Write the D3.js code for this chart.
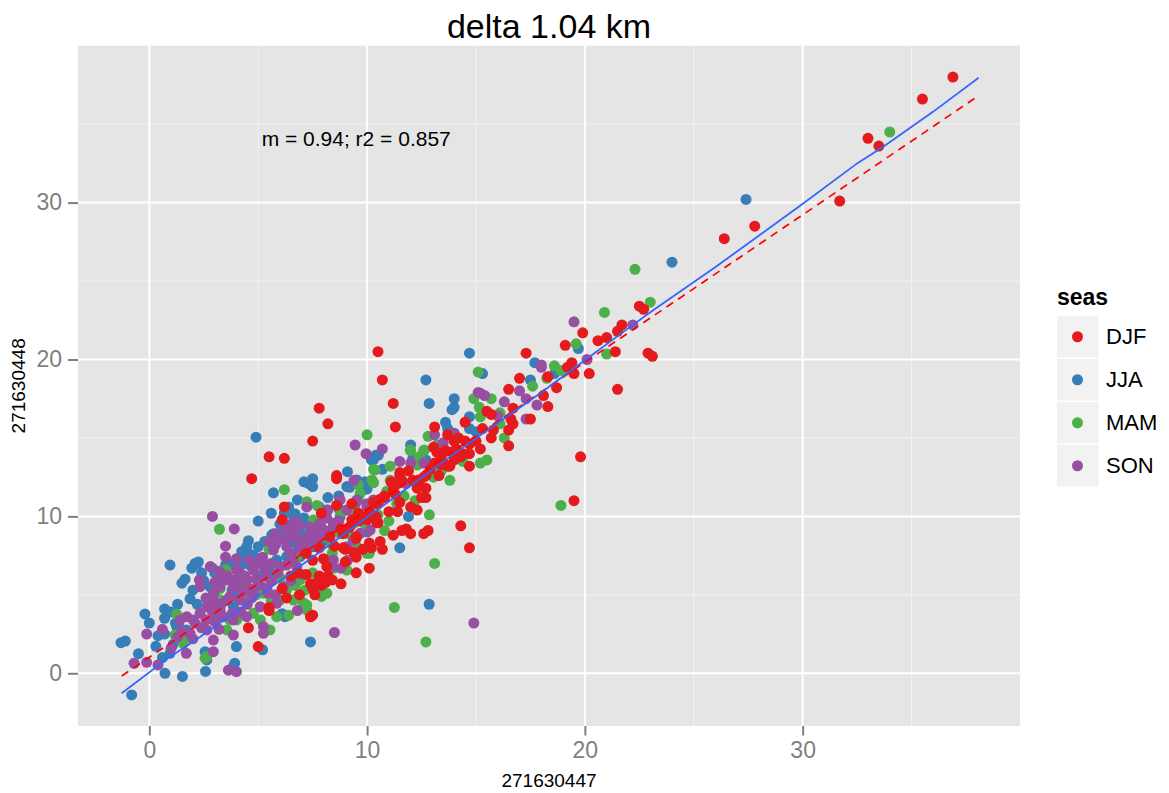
<!DOCTYPE html>
<html><head><meta charset="utf-8">
<script src="https://cdn.jsdelivr.net/npm/d3@7"></script>
<style>body{margin:0;background:#fff}svg{display:block}</style>
</head><body><div id="chart"></div>
<script>
const seasons = ["DJF","JJA","MAM","SON"];
const seasonColors = ["#E41A1C","#377EB8","#4DAF4A","#984EA3"];
const xTicks = [0,10,20,30];
const yTicks = [0,10,20,30];
const titleText = "delta 1.04 km";
const xLabel = "271630447";
const yLabel = "271630448";
const annotation = "m = 0.94; r2 = 0.857";
const annotPos = [9.5, 34.1];
const fitSlope = 0.94, fitIntercept = 1.02;
const fitRange = [-1.27, 38.1];
const smoothX = [-1.27, 0.95, 2, 4, 6, 8, 10, 12, 14, 16, 18, 20, 22, 23.15, 26, 28, 30.04, 32.5, 33.7, 36, 38.08];
const smoothY = [-1.27, 1.06, 2.0, 3.95, 5.9, 7.9, 9.95, 11.95, 14.0, 15.95, 17.9, 19.95, 22.0, 23.15, 25.9, 27.9, 29.96, 32.5, 33.56, 35.8, 37.96];

const djf = [[36.9,38.0],[35.5,36.6],[33.0,34.1],[33.5,33.6],[31.7,30.1],[27.8,28.5],[26.4,27.7],
[22.5,23.4],[22.7,23.2],[21.7,22.2],[21.5,21.8],[19.9,21.7],[19.1,20.9],[20.6,21.2],[21.0,21.4],[21.4,20.5],[22.9,20.4],[23.1,20.2],[20.2,19.1],[21.5,18.1],[19.8,13.8],[19.5,11.0],
[17.3,20.4],[19.4,19.8],[19.2,19.5],[19.5,19.1],[18.3,18.9],[17.0,18.8],[16.5,18.1],[18.1,17.7],[18.7,18.2],[18.3,17.0],[16.7,16.9],[17.5,16.2],[16.7,15.9],[16.5,15.5],[16.5,14.5],
[10.5,20.5],[10.7,18.7],[11.2,17.2],[11.3,15.7],[7.8,16.9],[8.2,15.9],[7.5,14.8],[5.5,13.8],[6.2,13.7],[4.7,12.4],
[15.5,16.7],[15.7,16.5],[16.6,16.2],[15.7,15.0],[15.3,15.6],[14.5,16.0],[13.1,15.7],[13.7,15.2],[14.2,15.0],[14.0,14.8],[13.2,14.1],[13.4,13.8],[13.6,14.2],[13.9,14.1],[14.5,14.8],[14.7,14.6],[15.0,14.8],[14.7,14.0],[14.4,14.0],[14.3,13.8],[14.1,14.3],[13.1,13.4],[13.4,13.3],[13.6,13.3],[13.8,13.2],[14.7,13.2],[13.7,13.2],[12.7,12.6],[12.4,12.3],[11.5,12.8],[11.1,12.2],[10.8,11.3],[10.5,10.8],[13.05,14.4],
[8.6,12.6],[8.6,12.4],[11.5,12.6],[11.6,12.3],[11.2,11.7],[12.6,12.5],[12.7,11.8],[12.3,11.8],[12.7,11.2],[12.5,11.2],[11.3,11.4],[10.8,11.2],[10.6,11.1],[12.0,10.6],[11.4,10.3],[11.0,10.3],[10.5,9.6],[11.6,9.1],[11.8,9.2],[12.8,9.1],[12.6,8.9],[12.0,8.9],[10.1,10.3],[9.9,9.9],
[8.6,10.7],[9.6,10.2],[9.7,10.0],[7.9,10.2],[9.3,9.8],[9.6,9.7],[8.8,9.2],[8.9,8.9],[8.3,8.7],[9.5,8.7],[6.1,9.8],[6.2,10.6],[10.0,9.8],[10.45,9.6],
[14.3,9.4],[14.7,8.0],
[9.5,6.4],[10.1,6.7],[8.8,5.7],[7.5,3.7],[7.6,5.0],[7.9,5.6],[10.7,7.9],[10.2,8.0],[10.1,8.3],[9.4,7.7],[9.5,7.4],[8.9,8.0],[7.8,8.0],[8.0,7.3],[7.2,6.3],[7.4,5.7],[7.8,6.2],[6.8,6.4],[6.5,6.2],[8.2,6.2],[8.1,5.8],[7.6,5.7],[7.5,5.4],[5.5,4.2],[5.5,4.0],[4.55,2.9],[5.0,1.7],[9.5,8.6],[8.15,6.8],[8.4,5.95],[7.4,3.6],[6.1,5.4],[6.3,4.8],[7.5,7.2],[7.2,7.65],[9.0,7.9],
[11.3,12.0],[11.9,12.9],[12.1,12.3],[10.4,10.0],[9.2,9.3],[8.5,8.1],[10.6,8.4],[11.2,8.8],[9.8,7.9],[9.0,7.1],[12.9,13.0],[13.3,12.6],[14.0,13.6],[15.2,14.3],[15.8,15.5],[10.3,10.9],[9.3,10.8],[11.5,10.9],[12.3,10.4],[6.9,5.0]];

const jja = [[27.4,30.2],[24.0,26.2],[19.7,20.7],[18.6,19.1],[17.5,18.7],[17.7,19.8],[15.3,19.1],[14.7,20.4],[12.7,18.7],[12.85,17.2],[14.0,17.5],[14.0,16.95],[13.9,16.8],[14.7,16.35],[14.7,15.6],[15.0,15.4],[13.6,16.0],[13.7,15.6],[12.0,14.55],[12.1,13.7],[12.7,13.6],[10.4,13.9],[10.2,13.6],[10.7,13.0],[9.1,12.85],[7.1,12.2],[7.5,12.4],[7.5,11.9],[7.3,12.1],[5.7,11.5],[9.9,12.2],[9.2,11.85],[9.8,11.9],[10.0,11.75],[11.9,10.0],[10.4,10.8],[10.1,10.6],[8.7,11.3],[6.8,11.05],[6.2,10.2],[5.6,10.2],[6.7,10.15],[6.85,9.66],[7.2,9.56],[5.7,8.9],[5.85,8.8],[10.0,9.0],[5.0,9.7],[4.9,15.05],[7.1,9.9],[7.5,9.45],[4.55,8.45],[4.3,7.75],[5.0,8.07],[2.2,7.0],[1.95,6.7],[2.1,7.0],[2.25,7.1],[1.64,6.0],[1.5,5.74],[2.9,6.7],[3.0,6.4],[4.2,6.9],[4.24,7.2],[4.55,7.65],[0.95,6.9],[4.24,7.75],[4.47,8.07],[4.1,6.7],[4.6,6.9],[2.8,5.5],[3.0,5.2],[3.8,5.3],[1.87,4.75],[0.7,4.1],[0.7,3.5],[-0.2,3.78],[0.0,3.2],[1.2,3.2],[1.26,2.97],[1.4,2.9],[1.7,2.76],[0.7,2.5],[-1.3,1.95],[-1.1,2.05],[0.3,1.72],[-0.5,1.25],[0.6,1.0],[1.1,1.85],[0.95,1.27],[0.72,0.0],[1.52,-0.2],[2.56,1.38],[2.64,0.85],[2.58,0.12],[4.0,1.7],[3.92,0.64],[3.86,0.42],[-0.81,-1.38],[6.16,5.5],[6.1,3.8],[11.5,8.0],[12.85,4.4],[7.4,2.0],[5.2,1.5],[3.06,3.72],[3.4,3.6],[3.86,4.24],[4.47,5.52],[4.01,4.88],[5.16,5.52],[5.39,6.79],[5.85,7.22],[6.31,7.43],[6.92,7.43],[7.53,8.07],[8.15,8.5],[7.53,5.63],[6.23,3.61],[6.62,9.98],[6.77,9.34],[6.0,8.92],[5.62,8.81],[6.46,8.5],[7.0,8.92],[7.84,9.13],[8.45,9.34],[8.76,9.98],[9.07,11.9],[9.53,12.32],[9.83,11.68],[10.29,13.6],[10.52,13.91],[8.7,10.5],
[3.5,6.9],[3.8,7.0],[4.8,7.5],[5.3,8.4],[6.0,9.5],[6.4,10.6],[7.8,10.6],[8.2,11.2],[3.2,5.9],[2.5,5.9],[2.4,6.4],[2.0,5.3],[1.3,4.4],[1.0,3.9],[0.4,2.4],[2.2,4.4],[5.0,6.2],[5.6,6.4],[6.8,8.1],[7.9,8.3]];

const mam = [[34.0,34.5],[22.3,25.75],[23.0,23.65],[20.9,23.0],[19.6,21.0],[21.0,20.35],[18.6,19.6],[18.9,19.3],[18.25,18.8],[17.6,18.3],[15.7,17.5],[16.3,15.0],[15.1,19.2],[14.9,17.5],[15.15,16.95],[15.2,16.35],[16.1,16.6],[16.1,15.9],[12.8,15.1],[13.2,14.55],[12.6,14.2],[14.0,14.1],[12.4,13.8],[11.06,13.2],[12.3,13.3],[15.2,13.4],[15.5,13.6],[10.0,15.2],[12.0,14.2],[10.3,13.0],[6.2,11.7],[9.6,12.0],[10.3,12.15],[11.06,12.3],[12.3,12.1],[13.05,12.5],[11.36,10.8],[12.86,10.1],[10.8,9.1],[9.45,10.4],[9.07,10.4],[7.23,10.94],[7.7,10.7],[9.14,8.9],[3.22,9.18],[5.5,7.9],[3.5,6.6],[3.4,6.3],[3.25,5.4],[7.76,5.3],[7.9,4.9],[6.7,5.6],[6.85,4.9],[7.07,4.5],[7.23,4.35],[6.4,3.7],[1.26,3.76],[1.18,2.44],[1.56,1.91],[2.64,1.06],[18.9,10.7],[13.1,7.0],[11.25,4.2],[12.7,2.0],[10.1,7.65],[8.4,7.65],[7.5,6.4],[7.8,5.95],[7.15,5.3],[7.07,4.24],[10.37,12.96],[10.22,12.32],[9.68,11.47],[9.6,11.05],[7.53,9.77],[7.69,8.5],[8.15,8.71],[6.77,7.43],[6.62,4.67],[7.07,4.46],[7.23,4.03],[7.53,5.31],[7.84,5.95],[6.92,5.95],[5.85,3.61],[5.54,2.76],[2.56,0.96],[1.33,2.44],[1.56,2.12],[3.25,4.69],[3.56,2.76],[4.01,3.4],[4.78,3.82],[5.24,5.1],[6.0,4.67],[9.37,9.56],[8.76,8.92],[9.53,8.07],[9.99,7.65],[9.07,6.58],[8.45,6.69],[8.15,5.1],[11.98,14.23],[14.04,14.12],[12.31,13.28],[12.63,14.23],
[4.2,5.8],[4.9,5.0],[5.6,4.6],[6.3,5.3],[6.0,6.1],[8.4,8.2],[9.9,9.5],[10.5,10.1],[11.0,9.7],[8.8,10.3],[2.9,4.2],[3.7,3.4],[4.4,4.6],[5.1,3.4],[11.7,11.3],[12.2,11.0],[13.4,12.9],[14.4,13.5],[13.8,12.3],[10.9,11.6]];

const son = [[19.5,22.4],[22.2,22.2],[20.1,20.0],[18.0,19.65],[18.0,19.5],[17.0,18.0],[17.3,17.5],[17.8,17.1],[16.3,17.3],[17.3,16.2],[15.2,17.85],[15.4,17.7],[15.1,17.9],[16.0,16.4],[14.0,15.3],[13.1,15.2],[13.5,14.7],[10.7,14.3],[11.5,13.5],[12.0,13.4],[12.6,13.4],[9.45,14.55],[9.95,14.0],[9.4,12.3],[11.75,12.1],[9.5,10.9],[10.0,10.8],[10.1,10.4],[8.2,10.4],[8.7,9.7],[8.6,9.45],[8.15,9.9],[7.23,10.6],[6.4,9.45],[6.16,9.56],[6.7,9.66],[7.4,9.3],[7.7,9.1],[7.9,9.3],[2.9,10.0],[3.9,9.2],[5.5,8.4],[5.8,8.2],[6.2,8.5],[5.2,7.4],[5.0,7.0],[5.2,7.0],[2.3,5.95],[3.2,6.5],[3.3,6.3],[6.8,4.0],[9.1,7.2],[8.8,6.7],[8.4,6.8],[-0.12,2.5],[-0.7,0.64],[-0.12,0.7],[1.7,1.27],[0.4,0.53],[2.94,1.38],[3.86,2.44],[3.63,0.2],[4.0,0.1],[14.9,3.2],[8.5,2.6],[4.78,6.58],[5.09,7.22],[5.39,6.16],[5.7,7.86],[6.0,6.79],[6.31,8.07],[6.31,9.13],[6.62,8.71],[6.92,8.5],[7.23,7.86],[7.53,8.92],[6.77,6.79],[3.86,5.52],[4.17,4.67],[4.47,5.95],[3.56,4.67],[3.25,4.03],[2.64,4.24],[2.33,3.82],[2.02,3.4],[2.1,3.19],[1.72,3.61],[1.41,3.4],[1.87,2.55],[2.64,2.76],[2.94,2.12],[3.4,3.61],[3.86,3.4],[4.47,3.61],[5.09,4.24],[5.24,2.97],[5.24,2.55],[5.85,4.46],[6.16,5.52],[5.47,5.1],[4.78,5.1],[4.17,6.37],[3.56,5.95],[3.25,5.52],[2.94,5.1],[2.33,5.52],[8.45,7.22],[9.07,8.07],[9.37,8.5],[9.68,8.92],[10.14,9.13],[10.29,11.05],[9.99,10.62],[9.53,11.05],[8.76,11.05],[9.07,10.41],[8.15,10.41],[7.84,9.56],[8.45,9.56],[4.5,4.4],[4.0,6.0],[5.6,5.9],[6.6,7.2],[7.0,6.3],[3.0,4.5],[4.3,5.2],[2.6,4.8],[1.5,2.7],[0.6,2.8],[3.2,2.8],
[3.0,5.8],[3.6,6.2],[4.0,6.6],[4.4,6.2],[4.9,6.0],[5.3,6.6],[5.6,7.0],[5.9,6.4],[6.3,6.9],[6.5,7.6],[6.9,7.9],[7.2,8.3],[7.6,8.5],[8.0,8.8],[8.3,9.1],[5.8,8.9],[6.6,9.0],[6.9,9.4],[7.3,8.7],[2.6,3.4],[2.9,3.9],[3.3,4.4],[3.7,4.9],[4.1,5.5],[4.6,5.4],[5.0,5.6],[5.4,5.4],[4.7,4.8],[4.2,3.9],[3.8,3.8],[3.0,3.3],[2.4,2.9],[2.0,2.2],[1.3,2.3],[1.0,1.6],[5.8,5.0],[6.5,5.9],[4.6,7.2],[4.0,7.3],[3.5,7.4],[3.5,8.1],[2.8,6.8]];

const seriesData = {DJF: djf, JJA: jja, MAM: mam, SON: son};
const drawOrder = ["JJA","MAM","SON","DJF"];

const W = 1169, H = 793;
const panel = {left: 78, right: 1020, top: 45.7, bottom: 726};
const x = d3.scaleLinear().domain([-3.275, 39.98]).range([panel.left, panel.right]);
const y = d3.scaleLinear().domain([-3.36, 40.0]).range([panel.bottom, panel.top]);
const color = d3.scaleOrdinal().domain(seasons).range(seasonColors);
const font = "Arial, 'Liberation Sans', Helvetica, sans-serif";

const svg = d3.select("#chart").append("svg").attr("width", W).attr("height", H)
  .style("font-family", font);

svg.append("rect").attr("x", panel.left).attr("y", panel.top)
  .attr("width", panel.right - panel.left).attr("height", panel.bottom - panel.top)
  .attr("fill", "#e5e5e5");

const xMinor = [-5,5,15,25,35].filter(v => v > x.domain()[0] && v < x.domain()[1]);
const yMinor = [5,15,25,35];
const grid = svg.append("g");
grid.selectAll(".xm").data(xMinor).enter().append("line")
  .attr("x1", d => x(d)).attr("x2", d => x(d)).attr("y1", panel.top).attr("y2", panel.bottom)
  .attr("stroke", "#f2f2f2").attr("stroke-width", 1);
grid.selectAll(".ym").data(yMinor).enter().append("line")
  .attr("y1", d => y(d)).attr("y2", d => y(d)).attr("x1", panel.left).attr("x2", panel.right)
  .attr("stroke", "#f2f2f2").attr("stroke-width", 1);
grid.selectAll(".xM").data(xTicks).enter().append("line")
  .attr("x1", d => x(d)).attr("x2", d => x(d)).attr("y1", panel.top).attr("y2", panel.bottom)
  .attr("stroke", "#ffffff").attr("stroke-width", 2);
grid.selectAll(".yM").data(yTicks).enter().append("line")
  .attr("y1", d => y(d)).attr("y2", d => y(d)).attr("x1", panel.left).attr("x2", panel.right)
  .attr("stroke", "#ffffff").attr("stroke-width", 2);

// points
const pts = svg.append("g");
drawOrder.forEach(s => {
  pts.selectAll(null).data(seriesData[s]).enter().append("circle")
    .attr("cx", d => x(d[0])).attr("cy", d => y(d[1])).attr("r", 5.5)
    .attr("fill", color(s));
});

// fitted dashed line
svg.append("line")
  .attr("x1", x(fitRange[0])).attr("y1", y(fitSlope * fitRange[0] + fitIntercept))
  .attr("x2", x(fitRange[1])).attr("y2", y(fitSlope * fitRange[1] + fitIntercept))
  .attr("stroke", "#ff0000").attr("stroke-width", 1.7).attr("stroke-dasharray", "8,6");

// smooth line
const smoothPts = smoothX.map((v, i) => [v, smoothY[i]]);
svg.append("path").datum(smoothPts)
  .attr("d", d3.line().x(d => x(d[0])).y(d => y(d[1])))
  .attr("fill", "none").attr("stroke", "#3366FF").attr("stroke-width", 1.8);

// annotation
svg.append("text").attr("x", x(annotPos[0])).attr("y", y(annotPos[1]))
  .attr("text-anchor", "middle").attr("dominant-baseline", "central")
  .attr("font-size", 21).attr("fill", "#000").text(annotation);

// axes
const xAxis = svg.append("g").attr("transform", `translate(0,${panel.bottom})`)
  .call(d3.axisBottom(x).tickValues(xTicks).tickSize(9.5).tickPadding(6));
const yAxis = svg.append("g").attr("transform", `translate(${panel.left},0)`)
  .call(d3.axisLeft(y).tickValues(yTicks).tickSize(10).tickPadding(6));
[xAxis, yAxis].forEach(a => {
  a.select(".domain").remove();
  a.selectAll(".tick line").attr("stroke", "#7f7f7f").attr("stroke-width", 2);
  a.selectAll(".tick text").attr("fill", "#7f7f7f").attr("font-size", 23).attr("font-family", font);
});

// titles
svg.append("text").attr("x", (panel.left + panel.right) / 2).attr("y", 38)
  .attr("text-anchor", "middle").attr("font-size", 34).attr("fill", "#000").text(titleText);
svg.append("text").attr("x", (panel.left + panel.right) / 2).attr("y", 787)
  .attr("text-anchor", "middle").attr("font-size", 19).attr("fill", "#000").text(xLabel);
svg.append("text").attr("transform", `translate(25,${(panel.top + panel.bottom) / 2}) rotate(-90)`)
  .attr("text-anchor", "middle").attr("font-size", 19).attr("fill", "#000").text(yLabel);

// legend
const leg = svg.append("g").attr("transform", "translate(1057,0)");
leg.append("text").attr("x", 0).attr("y", 305).attr("font-size", 23).attr("font-weight", "bold")
  .attr("fill", "#000").text("seas");
const keyTop = 316, keySize = 41.5, keyStep = 43;
seasons.forEach((s, i) => {
  const g = leg.append("g").attr("transform", `translate(0,${keyTop + i * keyStep})`);
  g.append("rect").attr("width", keySize).attr("height", keySize).attr("fill", "#f2f2f2");
  g.append("circle").attr("cx", 20.5).attr("cy", keySize / 2).attr("r", 5.5).attr("fill", color(s));
  g.append("text").attr("x", 49).attr("y", keySize / 2).attr("dominant-baseline", "central")
    .attr("font-size", 22).attr("fill", "#000").text(s);
});
</script></body></html>
